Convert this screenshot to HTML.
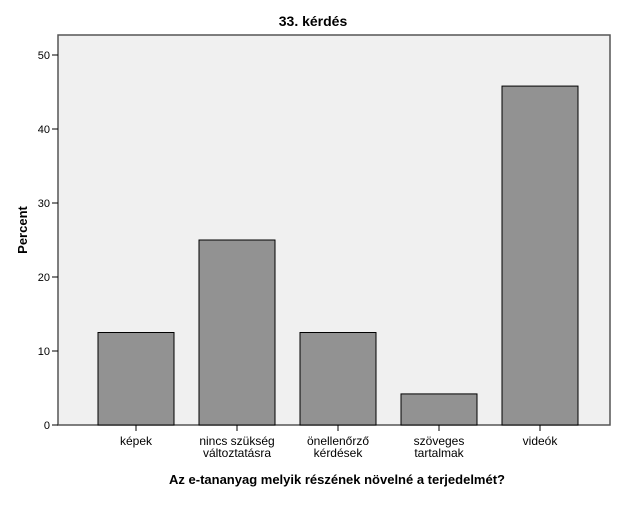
<!DOCTYPE html>
<html><head><meta charset="utf-8"><style>
body{margin:0;background:#fff;font-family:"Liberation Sans",Arial,sans-serif}
</style></head><body>
<svg id="chart" width="627" height="502" xmlns="http://www.w3.org/2000/svg" font-family="Liberation Sans, Arial, sans-serif">
<text x="313" y="26" text-anchor="middle" font-size="14" font-weight="bold">33. kérdés</text>
<rect x="58" y="35" width="552" height="390" fill="#f0f0f0" stroke="#555" stroke-width="1.5"/>
<g id="bars"></g>
<g id="yaxis"></g>
<g id="xaxis"></g>
<text transform="translate(27,230) rotate(-90)" text-anchor="middle" font-size="13" font-weight="bold">Percent</text>
<text x="337" y="484" text-anchor="middle" font-size="13" font-weight="bold">Az e-tananyag melyik részének növelné a terjedelmét?</text>
</svg>
<script>
const categories=[["képek"],["nincs szükség","változtatásra"],["önellenőrző","kérdések"],["szöveges","tartalmak"],["videók"]];
const values=[12.5,25,12.5,4.2,45.8];
const yTicks=[0,10,20,30,40,50];
const NS="http://www.w3.org/2000/svg";
const y=v=>425-v*7.4;
const x=i=>136+i*101;
function mk(t,a,p){const e=document.createElementNS(NS,t);for(const k in a)e.setAttribute(k,a[k]);p.appendChild(e);return e;}
const bars=document.getElementById('bars'),ya=document.getElementById('yaxis'),xa=document.getElementById('xaxis');
values.forEach((v,i)=>{
const r=mk('rect',{x:x(i)-38,y:y(v),width:76,height:425-y(v),fill:'#929292',stroke:'#000','stroke-width':1},bars);


const t=mk('line',{x1:x(i),x2:x(i),y1:425,y2:431,stroke:'#000'},xa);


categories[i].forEach((s,j)=>{
const l=mk('text',{x:x(i),y:445+j*12,'text-anchor':'middle','font-size':12},xa);
l.textContent=s;


});
});
yTicks.forEach(v=>{
const t=mk('line',{x1:52,x2:58,y1:y(v),y2:y(v),stroke:'#000'},ya);


const l=mk('text',{x:50,y:y(v)+4,'text-anchor':'end','font-size':11},ya);
l.textContent=v;


});
</script>
</body></html>
